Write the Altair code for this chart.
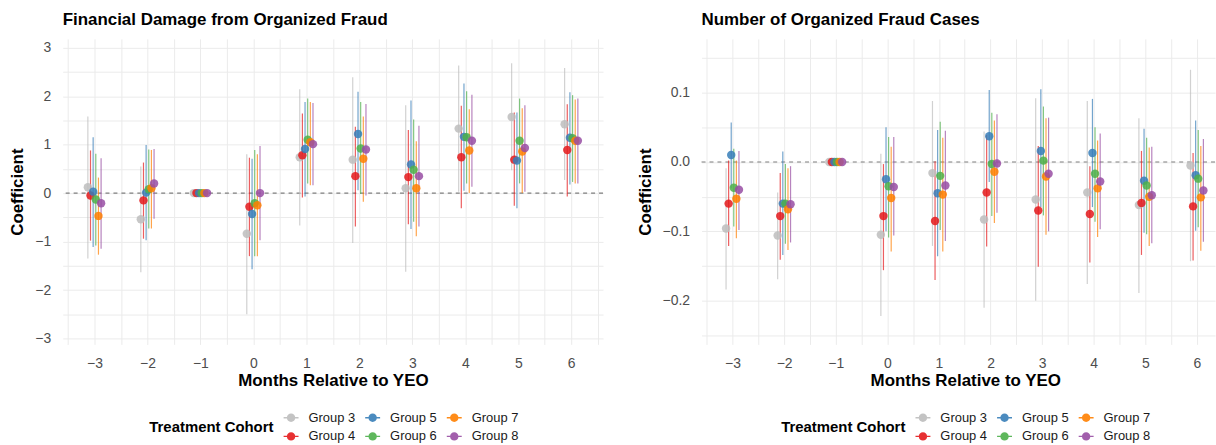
import altair as alt
import pandas as pd

# Event-study coefficients by treatment cohort, months -3..6 relative to YEO
months = [-3, -2, -1, 0, 1, 2, 3, 4, 5, 6]
groups = ["Group 3", "Group 4", "Group 5", "Group 6", "Group 7", "Group 8"]

# Financial damage from organized fraud
dmg_coef = {
    "Group 3": [0.12, -0.54, 0, -0.84, 0.74, 0.69, 0.10, 1.33, 1.57, 1.42],
    "Group 4": [-0.05, -0.15, 0, -0.28, 0.78, 0.35, 0.33, 0.74, 0.69, 0.89],
    "Group 5": [0.03, 0.01, 0, -0.43, 0.91, 1.22, 0.59, 1.16, 0.67, 1.14],
    "Group 6": [-0.13, 0.08, 0, -0.21, 1.10, 0.92, 0.48, 1.15, 1.08, 1.13],
    "Group 7": [-0.47, 0.10, 0, -0.25, 1.05, 0.71, 0.10, 0.88, 0.86, 1.08],
    "Group 8": [-0.21, 0.20, 0, 0.00, 1.01, 0.90, 0.35, 1.08, 0.93, 1.08],
}
dmg_lo = {
    "Group 3": [-1.35, -1.63, 0, -2.50, -0.67, -1.03, -1.62, 0.03, 0.47, 0.27],
    "Group 4": [-0.98, -0.94, 0, -1.30, -0.09, -0.69, -0.64, -0.31, -0.26, -0.07],
    "Group 5": [-1.11, -0.97, 0, -1.57, -0.07, 0.06, -0.74, 0.05, -0.31, 0.18],
    "Group 6": [-1.08, -0.73, 0, -1.30, 0.20, -0.02, -0.59, 0.20, 0.20, 0.23],
    "Group 7": [-1.27, -0.73, 0, -1.30, 0.16, -0.18, -0.89, 0.00, 0.00, 0.20],
    "Group 8": [-1.15, -0.53, 0, -0.97, 0.16, -0.05, -0.69, 0.13, 0.03, 0.20],
}
dmg_hi = {
    "Group 3": [1.58, 0.55, 0, 0.80, 2.14, 2.39, 1.81, 2.63, 2.68, 2.58],
    "Group 4": [0.88, 0.63, 0, 0.73, 1.64, 1.37, 1.30, 1.80, 1.66, 1.83],
    "Group 5": [1.15, 0.99, 0, 0.71, 1.88, 2.09, 1.91, 2.26, 1.66, 2.08],
    "Group 6": [0.81, 0.90, 0, 0.89, 1.95, 1.88, 1.52, 2.10, 1.95, 2.02],
    "Group 7": [0.32, 0.89, 0, 0.80, 1.88, 1.58, 1.07, 1.73, 1.75, 1.93],
    "Group 8": [0.72, 0.91, 0, 0.97, 1.86, 1.84, 1.39, 2.03, 1.81, 1.95],
}

# Number of organized fraud cases
cnt_coef = {
    "Group 3": [-0.096, -0.106, 0, -0.105, -0.016, -0.083, -0.054, -0.044, -0.062, -0.005],
    "Group 4": [-0.060, -0.078, 0, -0.078, -0.085, -0.044, -0.070, -0.075, -0.059, -0.064],
    "Group 5": [0.010, -0.060, 0, -0.025, -0.045, 0.037, 0.016, 0.013, -0.027, -0.019],
    "Group 6": [-0.037, -0.060, 0, -0.035, -0.020, -0.003, 0.002, -0.017, -0.034, -0.024],
    "Group 7": [-0.053, -0.068, 0, -0.052, -0.047, -0.014, -0.021, -0.038, -0.050, -0.051],
    "Group 8": [-0.040, -0.061, 0, -0.036, -0.034, -0.002, -0.017, -0.028, -0.048, -0.041],
}
cnt_lo = {
    "Group 3": [-0.184, -0.169, 0, -0.222, -0.121, -0.210, -0.200, -0.176, -0.189, -0.143],
    "Group 4": [-0.121, -0.141, 0, -0.156, -0.170, -0.122, -0.151, -0.145, -0.134, -0.142],
    "Group 5": [-0.038, -0.134, 0, -0.100, -0.136, -0.029, -0.065, -0.065, -0.102, -0.099],
    "Group 6": [-0.093, -0.118, 0, -0.109, -0.098, -0.078, -0.077, -0.086, -0.104, -0.094],
    "Group 7": [-0.110, -0.127, 0, -0.129, -0.129, -0.088, -0.105, -0.108, -0.121, -0.128],
    "Group 8": [-0.098, -0.116, 0, -0.106, -0.114, -0.073, -0.100, -0.097, -0.117, -0.115],
}
cnt_hi = {
    "Group 3": [-0.009, -0.044, 0, 0.012, 0.088, 0.044, 0.092, 0.088, 0.063, 0.133],
    "Group 4": [0.002, -0.016, 0, -0.003, 0.001, 0.039, 0.023, -0.006, 0.016, 0.013],
    "Group 5": [0.057, 0.015, 0, 0.050, 0.046, 0.104, 0.105, 0.091, 0.048, 0.060],
    "Group 6": [0.019, -0.003, 0, 0.036, 0.058, 0.071, 0.080, 0.050, 0.035, 0.046],
    "Group 7": [0.002, -0.009, 0, 0.022, 0.035, 0.060, 0.063, 0.031, 0.021, 0.023],
    "Group 8": [0.016, -0.006, 0, 0.036, 0.045, 0.069, 0.064, 0.041, 0.022, 0.033],
}

# legend is laid out column-wise: (3,4) (5,6) (7,8)
legend_order = ["Group 3", "Group 5", "Group 7", "Group 4", "Group 6", "Group 8"]
legend_colors = ["#BDBDBD", "#377EB8", "#FF7F00", "#E41A1C", "#4DAF4A", "#984EA3"]

DODGE = 0.05  # horizontal spacing between cohorts within a month
FONT = "Liberation Sans"
KEY = ("M-1,-0.09L1,-0.09L1,0.09L-1,0.09Z"
       "M0.56,0A0.56,0.56,0,1,1,-0.56,0A0.56,0.56,0,1,1,0.56,0Z")


def frame(coef, lo, hi):
    rows = []
    for k, g in enumerate(groups):
        for i, m in enumerate(months):
            rows.append({
                "group": g,
                "month": m,
                "x": m + (k - 2.5) * DODGE,
                "coef": coef[g][i],
                "lo": lo[g][i],
                "hi": hi[g][i],
            })
    return pd.DataFrame(rows)


def panel(df, title, xdom, ydom, yvals, ylabel, width, legend_x, xtitle_x):
    xvals = [v / 2 for v in range(-7, 14)]
    x = alt.X(
        "x:Q",
        scale=alt.Scale(domain=xdom, nice=False, zero=False),
        axis=alt.Axis(
            values=xvals,
            labelExpr="datum.value % 1 == 0 ? format(datum.value, 'd') : ''",
            title="Months Relative to YEO",
            titleX=xtitle_x,
        ),
    )
    yscale = alt.Scale(domain=ydom, nice=False, zero=False)
    yaxis = alt.Axis(values=yvals, labelExpr=ylabel, title="Coefficient")
    color = alt.Color(
        "group:N",
        scale=alt.Scale(domain=legend_order, range=legend_colors),
        legend=alt.Legend(
            title="Treatment Cohort",
            orient="none",
            legendX=legend_x,
            legendY=373,
            direction="horizontal",
            columns=3,
            titleOrient="left",
            titleAnchor="middle",
            titleBaseline="middle",
            titleFontSize=15,
            titleFontWeight="bold",
            titleFont=FONT,
            titleColor="#000000",
            titlePadding=9,
            labelFont=FONT,
            labelFontSize=13,
            labelColor="#1A1A1A",
            labelOffset=10,
            columnPadding=10,
            rowPadding=4,
            symbolType=KEY,
            symbolSize=225,
            symbolStrokeWidth=0,
            symbolOpacity=0.9,
        ),
    )
    zero = alt.Chart(pd.DataFrame({"y": [0]})).mark_rule(
        color="#7F7F7F", strokeDash=[4, 4], strokeWidth=1.1
    ).encode(y=alt.Y("y:Q", scale=yscale, axis=yaxis))
    bars = alt.Chart(df).mark_rule(strokeWidth=1.2, opacity=0.7).encode(
        x=x,
        y=alt.Y("lo:Q", scale=yscale, axis=yaxis),
        y2="hi:Q",
        color=color,
    )
    pts = alt.Chart(df).mark_circle(size=72, opacity=0.85).encode(
        x=x,
        y=alt.Y("coef:Q", scale=yscale, axis=yaxis),
        color=color,
    )
    return alt.layer(zero, bars, pts).properties(
        width=width, height=307, title=title
    )


left = panel(
    frame(dmg_coef, dmg_lo, dmg_hi),
    "Financial Damage from Organized Fraud",
    [-3.6, 6.6],
    [-3.12, 3.18],
    [v / 2 for v in range(-6, 7)],
    "datum.value % 1 == 0 ? format(datum.value, 'd') : ''",
    543,
    87,
    271.5,
)
right = panel(
    frame(cnt_coef, cnt_lo, cnt_hi),
    "Number of Organized Fraud Cases",
    [-3.6, 6.35],
    [-0.263, 0.1775],
    [round(-0.25 + 0.05 * i, 2) for i in range(9)],
    "abs(datum.value * 10 - round(datum.value * 10)) < 0.001 ? format(datum.value, '.1f') : ''",
    516,
    80,
    265,
)

chart = (
    alt.hconcat(left, right, spacing=32)
    .resolve_legend(color="independent")
    .properties(padding={"left": 9, "top": 10, "right": 0, "bottom": 0})
    .configure_view(stroke=None)
    .configure_axis(
        domain=False,
        ticks=False,
        grid=True,
        gridColor="#EBEBEB",
        gridWidth=1,
        labelFont=FONT,
        labelFontSize=14,
        labelColor="#4D4D4D",
        labelPadding=12,
        labelOverlap=False,
        titleFont=FONT,
        titleFontSize=17,
        titleFontWeight="bold",
        titleColor="#000000",
    )
    .configure_axisY(titlePadding=8)
    .configure_axisX(titlePadding=2)
    .configure_title(
        font=FONT,
        fontSize=17,
        fontWeight="bold",
        color="#000000",
        anchor="start",
        frame="group",
        offset=10,
    )
)

chart.save("out.html", embed_options={"renderer": "svg", "actions": False})
